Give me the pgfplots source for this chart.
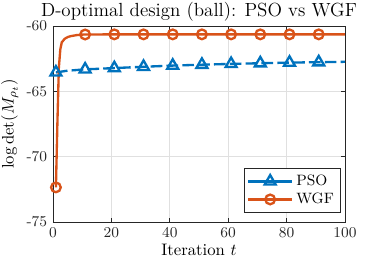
\documentclass[border=0pt]{standalone}
\usepackage{pgfplots}
\pgfplotsset{compat=1.18}
\definecolor{mblue}{rgb}{0,0.447,0.741}
\definecolor{morange}{rgb}{0.85,0.325,0.098}
\definecolor{maxis}{rgb}{0.15,0.15,0.15}
\begin{document}
\begin{tikzpicture}
\path[use as bounding box] (-31.8pt,-28.2pt) rectangle (196.8pt,133.2pt);
\begin{axis}[
  scale only axis,
  width=175.2pt, height=117.6pt,
  xmin=0, xmax=100, ymin=-75, ymax=-60,
  xtick={0,20,40,60,80,100},
  ytick={-75,-70,-65,-60},
  yticklabels={-75,-70,-65,-60},
  tick label style={font=\fontsize{9}{10}\selectfont, color=maxis},
  grid=major,
  major grid style={color=black!12, line width=0.4pt},
  axis line style={color=maxis, line width=0.5pt},
  tick style={color=maxis, line width=0.4pt},
  major tick length=2.5pt,
  tick align=inside,
  title={D-optimal design (ball): PSO vs WGF},
  title style={font=\fontsize{11.4}{13}\selectfont, yshift=-6.5pt},
  xlabel={Iteration $t$},
  ylabel={$\log\det(M_{\rho_t})$},
  label style={font=\fontsize{10}{12}\selectfont},
  xlabel style={yshift=3pt},
  ylabel style={yshift=-2pt},
  legend style={at={(0.986,0.046)}, anchor=south east, font=\fontsize{9}{10.5}\selectfont,
    draw=maxis, line width=0.4pt, row sep=-1pt, inner sep=2pt},
  legend cell align=left,
  legend image code/.code={\draw[#1] (0pt,0pt) -- (26pt,0pt); \draw[#1, only marks, solid] plot coordinates {(13pt,0pt)};},
]
% PSO line
\addplot[mblue, line width=1.4pt, dashed, dash pattern=on 7pt off 2.5pt, forget plot] coordinates {
(1,-63.55) (5,-63.42) (11,-63.32) (21,-63.22) (31,-63.12) (41,-63.03) (51,-62.96) (61,-62.9) (71,-62.85) (81,-62.8) (91,-62.77) (100,-62.74)};
\addplot[mblue, line width=1.4pt, only marks, mark=triangle, mark size=3.8pt, forget plot] coordinates {
(1,-63.55) (11,-63.32) (21,-63.22) (31,-63.12) (41,-63.03) (51,-62.96) (61,-62.9) (71,-62.85) (81,-62.8) (91,-62.77)};
% WGF line
\addplot[morange, line width=1.4pt, forget plot] coordinates {
(1,-72.35) (1.5,-67.5) (2,-63.2) (2.5,-61.8) (3,-61.25) (4,-60.98) (5,-60.85) (6,-60.78) (8,-60.7) (10,-60.66) (11,-60.65) (21,-60.64) (31,-60.64) (41,-60.64) (51,-60.64) (61,-60.64) (71,-60.64) (81,-60.64) (91,-60.64) (100,-60.64)};
\addplot[morange, line width=1.4pt, only marks, mark=o, mark size=2.9pt, forget plot] coordinates {
(1,-72.35) (11,-60.65) (21,-60.64) (31,-60.64) (41,-60.64) (51,-60.64) (61,-60.64) (71,-60.64) (81,-60.64) (91,-60.64)};
\addlegendimage{mblue, line width=1.4pt, mark=triangle, mark size=3.8pt}
\addlegendentry{PSO}
\addlegendimage{morange, line width=1.4pt, mark=o, mark size=2.9pt}
\addlegendentry{WGF}
\end{axis}
\end{tikzpicture}
\end{document}
